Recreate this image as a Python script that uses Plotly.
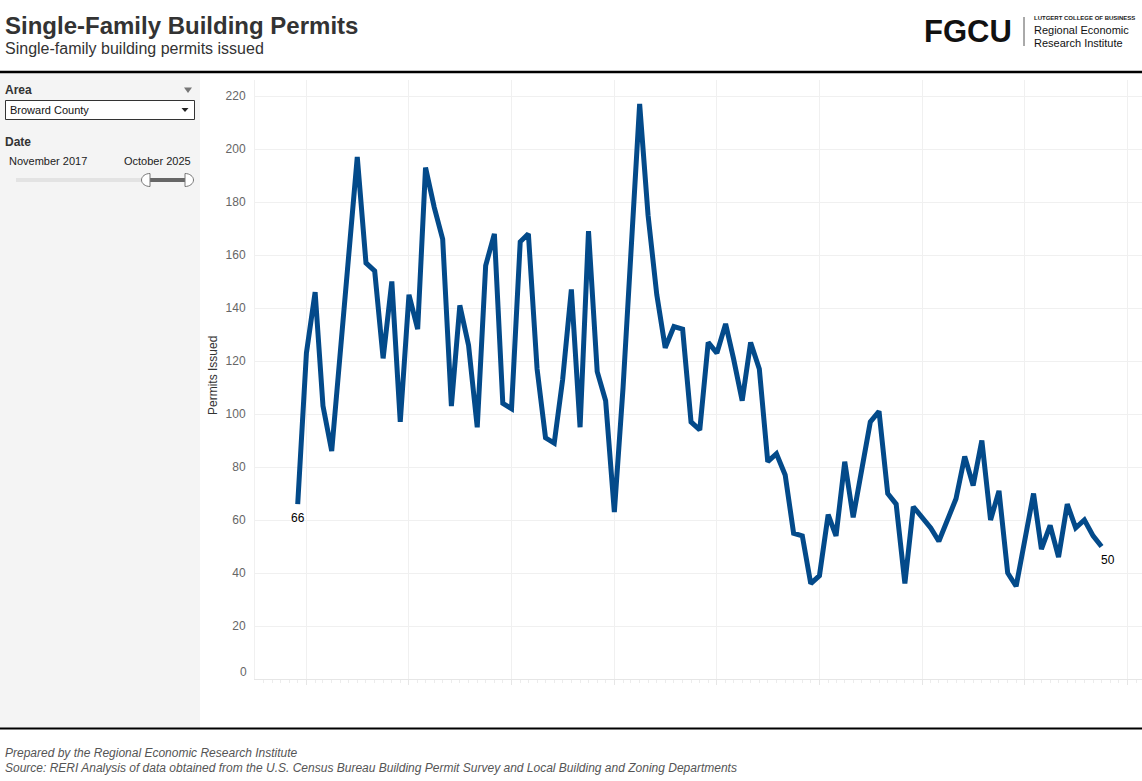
import pandas as pd
import plotly.graph_objects as go

# ---------------- data ----------------
months = pd.date_range("2017-12-01", "2025-10-01", freq="MS")
permits = [66, 123, 146, 103, 86, 121, 158, 197, 157, 154,
           121, 150, 97, 145, 132, 193, 178, 166, 103, 141,
           126, 95, 156, 168, 104, 102, 165, 168, 117, 91,
           89, 113, 147, 95, 169, 116, 105, 63, 110, 160,
           217, 175, 145, 125, 133, 132, 97, 94, 127, 123,
           134, 121, 105, 127, 117, 82, 85, 77, 55, 54,
           36, 39, 62, 54, 82, 61, 80, 97, 101, 70,
           66, 36, 65, 61, 57, 52, 60, 68, 84, 73,
           90, 60, 71, 40, 35, 52, 70, 49, 58, 46,
           66, 57, 60, 54, 50]
y_ticks = [0, 20, 40, 60, 80, 100, 120, 140, 160, 180, 200, 220]
area_name = "Broward County"
date_from = "November 2017"
date_to = "October 2025"

# ---------------- layout helpers (pixel -> paper) ----------------
W, H = 1142, 781
L, R, T, B = 255, 1142, 80, 679


def px(x):
    return (x - L) / (R - L)


def py(y):
    return (B - y) / (B - T)


FONT = "Liberation Sans, Arial, sans-serif"
LINE_COLOR = "#034a8a"

fig = go.Figure()
fig.add_trace(go.Scatter(
    x=months, y=permits, mode="lines",
    line=dict(color=LINE_COLOR, width=5),
    hoverinfo="x+y", showlegend=False,
))

shapes = [
    # left filter panel
    dict(type="rect", xref="paper", yref="paper", x0=px(0), x1=px(200), y0=py(73), y1=py(728),
         fillcolor="#f4f4f4", line=dict(width=0), layer="below"),
    # header / footer rules
    dict(type="line", xref="paper", yref="paper", x0=px(0), x1=px(W), y0=py(72), y1=py(72),
         line=dict(color="#000000", width=2.5)),
    dict(type="line", xref="paper", yref="paper", x0=px(0), x1=px(W), y0=py(728.5), y1=py(728.5),
         line=dict(color="#000000", width=2)),
    # logo separator
    dict(type="line", xref="paper", yref="paper", x0=px(1024), x1=px(1024), y0=py(17), y1=py(46),
         line=dict(color="#555555", width=1)),
    # dropdown box
    dict(type="rect", xref="paper", yref="paper", x0=px(5.5), x1=px(194.5), y0=py(100.5), y1=py(119.5),
         fillcolor="#ffffff", line=dict(color="#333333", width=1)),
    # slider track
    dict(type="line", xref="paper", yref="paper", x0=px(16), x1=px(190), y0=py(180), y1=py(180),
         line=dict(color="#e3e3e3", width=4)),
    dict(type="line", xref="paper", yref="paper", x0=px(146), x1=px(188), y0=py(180), y1=py(180),
         line=dict(color="#666666", width=4)),
]


def handle(xflat, xround, ytop, ybot):
    # D-shaped slider handle: flat side at xflat, rounded side towards xround
    ym = (ytop + ybot) / 2
    k = 0.55
    h = (ybot - ytop) / 2
    path = (f"M {px(xflat)},{py(ytop)} "
            f"C {px(xflat + (xround - xflat) * k)},{py(ytop)} {px(xround)},{py(ym - h * k)} {px(xround)},{py(ym)} "
            f"C {px(xround)},{py(ym + h * k)} {px(xflat + (xround - xflat) * k)},{py(ybot)} {px(xflat)},{py(ybot)} Z")
    return dict(type="path", xref="paper", yref="paper", path=path,
                fillcolor="#ffffff", line=dict(color="#777777", width=1))


shapes.append(handle(150, 141.5, 173.5, 186.5))
shapes.append(handle(185, 193.5, 173.5, 186.5))


def tri(x0, x1, ytop, ybot, color):
    xm = (x0 + x1) / 2
    path = f"M {px(x0)},{py(ytop)} L {px(x1)},{py(ytop)} L {px(xm)},{py(ybot)} Z"
    return dict(type="path", xref="paper", yref="paper", path=path,
                fillcolor=color, line=dict(width=0))


shapes.append(tri(184, 192, 87.5, 93, "#777777"))
shapes.append(tri(181.5, 188.5, 108, 112, "#222222"))


def txt(text, x, y, size, color="#333333", bold=False, italic=False, anchor="left", font=FONT):
    return dict(text=text, xref="paper", yref="paper", x=px(x), y=py(y),
                xanchor=anchor, yanchor="middle", showarrow=False,
                font=dict(family=font, size=size, color=color,
                          weight="bold" if bold else "normal",
                          style="italic" if italic else "normal"))


annotations = [
    txt("Single-Family Building Permits", 3, 26, 24, "#333333", bold=True),
    txt("Single-family building permits issued", 3, 49, 16, "#333333"),
    txt("FGCU", 922, 31, 31, "#111111", bold=True),
    txt("LUTGERT COLLEGE OF BUSINESS", 1032, 18.5, 6, "#222222", bold=True),
    txt("Regional Economic", 1032, 30, 11, "#111111"),
    txt("Research Institute", 1032, 43, 11, "#111111"),
    txt("Area", 3, 90, 12, "#333333", bold=True),
    txt(area_name, 8, 110, 11, "#111111"),
    txt("Date", 3, 142, 12, "#333333", bold=True),
    txt(date_from, 7, 161, 11, "#222222"),
    txt(date_to, 193, 161, 11, "#222222", anchor="right"),
    txt("Prepared by the Regional Economic Research Institute", 3, 753, 12, "#555555", italic=True),
    txt("Source: RERI Analysis of data obtained from the U.S. Census Bureau Building Permit Survey "
        "and Local Building and Zoning Departments", 3, 768, 12, "#555555", italic=True),
    dict(text="Permits Issued", xref="paper", yref="paper", x=px(213), y=py(376),
         xanchor="center", yanchor="middle", textangle=-90, showarrow=False,
         font=dict(family=FONT, size=12, color="#333333")),
    # zero tick label sits slightly above the baseline, as in the source
    dict(text=str(y_ticks[0]), xref="paper", yref="y", x=px(249), y=y_ticks[0],
         xanchor="right", yanchor="middle", yshift=7, showarrow=False,
         font=dict(family=FONT, size=12, color="#666666")),
    # data labels for first and last values
    dict(text=str(permits[0]), x=months[0], y=permits[0], xref="x", yref="y",
         showarrow=False, yshift=-14, font=dict(family=FONT, size=12, color="#000000")),
    dict(text=str(permits[-1]), x=months[-1], y=permits[-1], xref="x", yref="y",
         showarrow=False, xshift=6, yshift=-13, font=dict(family=FONT, size=12, color="#000000")),
]

fig.update_layout(
    width=W, height=H,
    margin=dict(l=L, r=W - R, t=T, b=H - B, pad=0),
    paper_bgcolor="#ffffff", plot_bgcolor="#ffffff",
    shapes=shapes, annotations=annotations,
    font=dict(family=FONT, size=12, color="#333333"),
    xaxis=dict(
        type="date", range=["2017-07-02", "2026-02-22"],
        tick0="2018-01-01", dtick="M12",
        showgrid=True, gridcolor="#f0f0f0", gridwidth=1,
        showticklabels=False, ticks="outside", ticklen=5, tickcolor="#e6e6e6",
        showline=True, linecolor="#e6e6e6", linewidth=1,
        minor=dict(dtick="M1", ticks="outside", ticklen=3, tickcolor="#ececec", showgrid=False),
        zeroline=False, fixedrange=True,
    ),
    yaxis=dict(
        range=[0, (B - T) / 2.65],
        tickvals=y_ticks[1:], ticktext=[str(v) for v in y_ticks[1:]],
        showgrid=True, gridcolor="#f0f0f0", gridwidth=1,
        tickfont=dict(family=FONT, size=12, color="#666666"),
        ticks="", ticklabelstandoff=6,
        showline=True, linecolor="#f0f0f0", zeroline=False, fixedrange=True,
    ),
)

fig.write_html("out.html", config={"displayModeBar": False},
               post_script="document.body.style.margin='0';")
